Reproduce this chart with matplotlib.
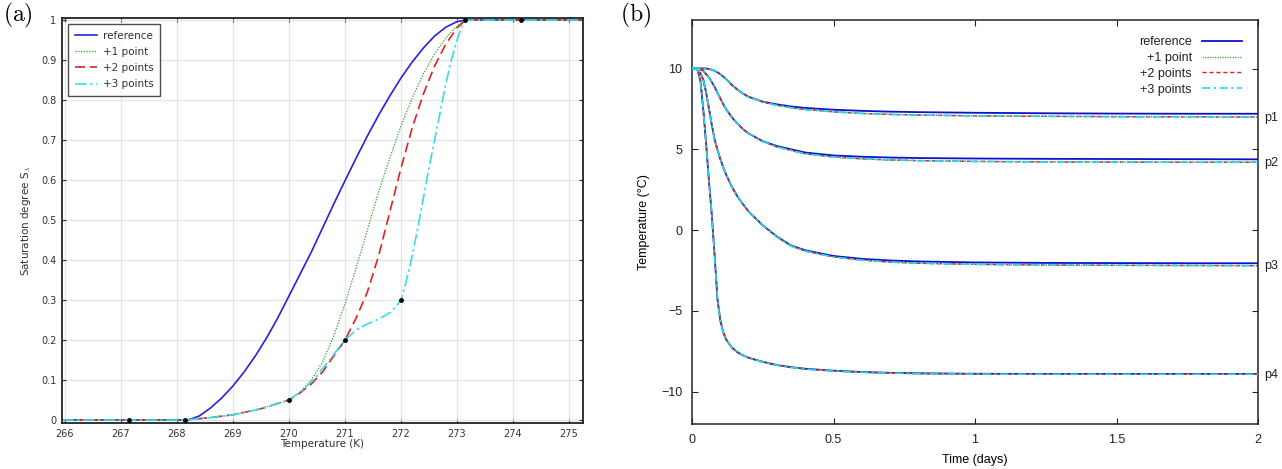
import numpy as np
import matplotlib
matplotlib.use('Agg')
import matplotlib.pyplot as plt

plt.rcParams['mathtext.fontset'] = 'cm'

# ── (a) saturation curves ─────────────────────────────────────────────────────
T_ref = [265.95, 268.2, 268.4, 268.6, 268.8, 269.0, 269.2, 269.4, 269.6, 269.8,
         270.0, 270.2, 270.4, 270.6, 270.8, 271.0, 271.2, 271.4, 271.6, 271.8,
         272.0, 272.2, 272.4, 272.6, 272.8, 273.0, 273.15, 275.25]
S_ref = [0.0, 0.0, 0.01, 0.03, 0.055, 0.085, 0.12, 0.16, 0.205, 0.255,
         0.31, 0.365, 0.42, 0.48, 0.54, 0.598, 0.655, 0.71, 0.762, 0.81,
         0.855, 0.895, 0.93, 0.96, 0.982, 0.996, 1.0, 1.0]

T_p1 = [265.95, 268.15, 268.6, 269.0, 269.5, 270.0, 270.2, 270.4, 270.6, 270.8,
        271.0, 271.2, 271.4, 271.6, 271.8, 272.0, 272.2, 272.4, 272.6, 272.8,
        273.0, 273.15, 275.25]
S_p1 = [0.0, 0.0, 0.006, 0.013, 0.028, 0.05, 0.07, 0.1, 0.145, 0.21,
        0.29, 0.38, 0.475, 0.57, 0.655, 0.735, 0.805, 0.865, 0.915, 0.955,
        0.985, 1.0, 1.0]

T_p2 = [265.95, 268.15, 268.6, 269.0, 269.5, 270.0, 270.2, 270.4, 270.6, 270.8,
        271.0, 271.2, 271.4, 271.6, 271.8, 272.0, 272.2, 272.4, 272.6, 272.8,
        273.0, 273.15, 275.25]
S_p2 = [0.0, 0.0, 0.006, 0.013, 0.028, 0.05, 0.068, 0.09, 0.12, 0.16,
        0.2, 0.255, 0.32, 0.41, 0.52, 0.63, 0.73, 0.815, 0.885, 0.94,
        0.98, 1.0, 1.0]

T_p3 = [265.95, 268.15, 268.6, 269.0, 269.5, 270.0, 270.25, 270.5, 270.75, 271.0,
        271.2, 271.4, 271.6, 271.8, 271.92, 272.0, 272.1, 272.2, 272.3, 272.4,
        272.5, 272.6, 272.7, 272.8, 272.9, 273.0, 273.1, 273.15, 275.25]
S_p3 = [0.0, 0.0, 0.006, 0.013, 0.028, 0.05, 0.075, 0.11, 0.155, 0.2,
        0.225, 0.24, 0.252, 0.268, 0.285, 0.3, 0.35, 0.41, 0.48, 0.555,
        0.63, 0.7, 0.77, 0.84, 0.9, 0.95, 0.99, 1.0, 1.0]

T_pts = [267.15, 268.15, 270.0, 271.0, 272.0, 273.15, 274.15]
S_pts = [0.0, 0.0, 0.05, 0.2, 0.3, 1.0, 1.0]

# ── (b) temperature histories ─────────────────────────────────────────────────
t_days = [0.0, 0.01, 0.02, 0.03, 0.04, 0.05, 0.06, 0.07, 0.08, 0.09,
          0.1, 0.11, 0.12, 0.14, 0.16, 0.18, 0.2, 0.25, 0.3, 0.35,
          0.4, 0.5, 0.6, 0.7, 0.8, 1.0, 1.25, 1.5, 1.75, 2.0]
probe_names = ['p1', 'p2', 'p3', 'p4']
T_probe_ref = {
    'p1': [10.0, 10.0, 10.0, 10.0, 10.0, 10.0, 9.97, 9.92, 9.85, 9.76,
           9.65, 9.5, 9.35, 9.0, 8.7, 8.45, 8.25, 7.95, 7.78, 7.65,
           7.56, 7.45, 7.38, 7.33, 7.3, 7.26, 7.23, 7.21, 7.2, 7.2],
    'p2': [10.0, 10.0, 10.0, 9.95, 9.85, 9.65, 9.45, 9.15, 8.85, 8.5,
           8.15, 7.8, 7.5, 7.0, 6.6, 6.25, 5.98, 5.5, 5.2, 5.0,
           4.8, 4.62, 4.54, 4.49, 4.46, 4.43, 4.41, 4.4, 4.39, 4.38],
    'p3': [10.0, 10.0, 9.9, 9.7, 9.3, 8.5, 7.5, 6.5, 5.6, 4.95,
           4.4, 3.9, 3.45, 2.7, 2.1, 1.6, 1.15, 0.3, -0.4, -0.95,
           -1.25, -1.6, -1.78, -1.88, -1.94, -2.0, -2.03, -2.04, -2.05, -2.05],
    'p4': [10.0, 10.0, 9.9, 9.2, 7.4, 5.3, 3.0, 0.9, -1.6, -4.3,
           -5.6, -6.3, -6.75, -7.25, -7.55, -7.75, -7.9, -8.15, -8.35, -8.48,
           -8.58, -8.7, -8.78, -8.83, -8.86, -8.89, -8.9, -8.9, -8.9, -8.9],
}
T_probe_fit = {
    'p1': [10.0, 10.0, 10.0, 10.0, 10.0, 10.0, 9.97, 9.92, 9.85, 9.76,
           9.65, 9.5, 9.35, 9.0, 8.7, 8.45, 8.25, 7.93, 7.72, 7.57,
           7.46, 7.32, 7.22, 7.16, 7.12, 7.07, 7.04, 7.02, 7.01, 7.0],
    'p2': [10.0, 10.0, 10.0, 9.95, 9.85, 9.65, 9.45, 9.15, 8.85, 8.5,
           8.15, 7.8, 7.5, 7.0, 6.6, 6.25, 5.98, 5.48, 5.15, 4.93,
           4.72, 4.52, 4.41, 4.34, 4.3, 4.25, 4.22, 4.21, 4.2, 4.2],
    'p3': [10.0, 10.0, 9.9, 9.7, 9.3, 8.5, 7.5, 6.5, 5.6, 4.95,
           4.4, 3.9, 3.45, 2.7, 2.1, 1.6, 1.15, 0.28, -0.43, -0.98,
           -1.3, -1.66, -1.86, -1.98, -2.05, -2.12, -2.16, -2.18, -2.19, -2.2],
    'p4': [10.0, 10.0, 9.9, 9.2, 7.4, 5.3, 3.0, 0.9, -1.6, -4.3,
           -5.6, -6.3, -6.75, -7.25, -7.55, -7.75, -7.9, -8.16, -8.36, -8.5,
           -8.6, -8.72, -8.8, -8.85, -8.88, -8.91, -8.92, -8.92, -8.92, -8.92],
}

legend_labels = ['reference', '+1 point', '+2 points', '+3 points']

fig = plt.figure(figsize=(12.82, 4.69), dpi=100)

# -- panel (a) ---------------------------------------------------------------
axa = fig.add_axes([0.0484, 0.0981, 0.4064, 0.8635])
axa.plot(T_ref, S_ref, color='#2323e0', lw=1.2, label=legend_labels[0])
axa.plot(T_p1, S_p1, color='#30a030', lw=0.9, ls=(0, (1, 1.2)), label=legend_labels[1])
axa.plot(T_p2, S_p2, color='#e82020', lw=1.2, ls=(0, (6, 3)), label=legend_labels[2])
axa.plot(T_p3, S_p3, color='#30e0f0', lw=1.2, ls=(0, (7, 2, 1.5, 2)), label=legend_labels[3])
axa.plot(T_pts, S_pts, 'o', color='black', ms=2.5, zorder=5)
axa.set_xlim(265.95, 275.25)
axa.set_ylim(-0.0075, 1.005)
axa.set_xticks(np.arange(266, 276, 1))
axa.set_yticks(np.arange(0, 1.01, 0.1))
axa.set_yticklabels(['0'] + [f'{v:.1f}' for v in np.arange(0.1, 0.95, 0.1)] + ['1'])
axa.grid(color='#e4e4e4', lw=0.9, ls='-')
axa.set_axisbelow(True)
axa.tick_params(direction='in', top=True, right=True, length=3, width=0.8,
                labelsize=7, colors='#333333', pad=4)
for sp in axa.spines.values():
    sp.set_color('#222222')
    sp.set_linewidth(1.3)
axa.set_xlabel('Temperature (K)', fontsize=7.5, color='#333333', labelpad=0)
axa.set_ylabel(r'Saturation degree S$_\lambda$', fontsize=7.5, color='#333333', labelpad=6)
lga = axa.legend(loc='upper left', fontsize=7.5, frameon=True, fancybox=False,
                 edgecolor='#222222', handlelength=2.2, handletextpad=0.5,
                 borderaxespad=0.6, labelspacing=0.6, borderpad=0.6)
lga.get_frame().set_linewidth(1.0)
for txt in lga.get_texts():
    txt.set_color('#333333')
fig.text(0.002, 0.968, r'$\mathrm{(a)}$', fontsize=17, va='center')

# -- panel (b) ---------------------------------------------------------------
axb = fig.add_axes([0.5398, 0.0959, 0.4415, 0.8614])
styles = [
    dict(color='#1010c8', lw=1.3, ls='-'),
    dict(color='#30a030', lw=0.9, ls=(0, (1, 1))),
    dict(color='#e02020', lw=1.0, ls=(0, (3, 2))),
    dict(color='#20d8f0', lw=1.2, ls=(0, (5, 2, 1.5, 2))),
]
for i, name in enumerate(probe_names):
    for k, st in enumerate(styles):
        ys = T_probe_ref[name] if k == 0 else T_probe_fit[name]
        axb.plot(t_days, ys, label=legend_labels[k] if i == 0 else None,
                 zorder=3 + (k if k != 1 else 1), **st)
    axb.text(1.01, T_probe_fit[name][-1] - 0.05, name, transform=axb.get_yaxis_transform(),
             fontsize=9, family='Liberation Sans', va='center', color='#222222')
axb.set_xlim(0, 2)
axb.set_ylim(-12, 13)
axb.set_xticks([0, 0.5, 1, 1.5, 2])
axb.set_xticklabels(['0', '0.5', '1', '1.5', '2'])
axb.set_yticks([-10, -5, 0, 5, 10])
axb.set_yticklabels(['\u221210', '\u22125', '0', '5', '10'])
axb.tick_params(direction='in', top=True, right=True, length=4, width=0.8,
                labelsize=9, pad=7, colors='#222222')
for lab in axb.get_xticklabels() + axb.get_yticklabels():
    lab.set_family('Liberation Sans')
for sp in axb.spines.values():
    sp.set_color('#222222')
    sp.set_linewidth(1.1)
axb.set_xlabel('Time (days)', fontsize=9, family='Liberation Sans', labelpad=6)
axb.set_ylabel('Temperature (\u00b0C)', fontsize=9, family='Liberation Sans', labelpad=8)
lgb = axb.legend(loc='upper right', frameon=False, markerfirst=False,
                 prop={'family': 'Liberation Sans', 'size': 9},
                 handlelength=3.2, handletextpad=0.8, labelspacing=0.3,
                 borderaxespad=0.9)
for txt in lgb.get_texts():
    txt.set_ha('right')
    txt.set_color('#222222')
fig.text(0.484, 0.968, r'$\mathrm{(b)}$', fontsize=17, va='center')

fig.savefig('out.png', dpi=100)
